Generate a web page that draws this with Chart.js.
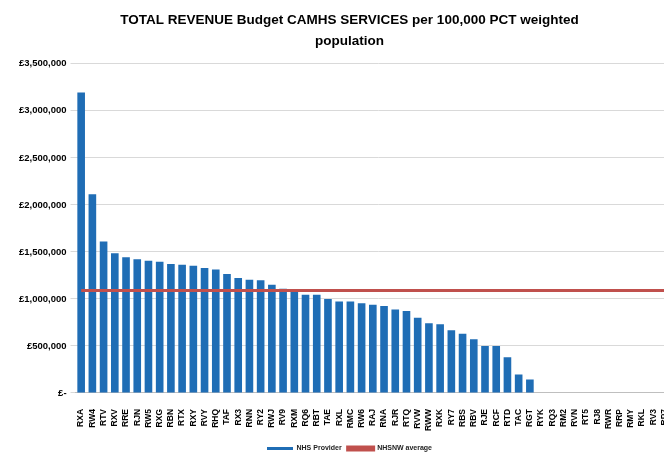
<!DOCTYPE html>
<html>
<head>
<meta charset="utf-8">
<title>TOTAL REVENUE Budget CAMHS SERVICES</title>
<script src="https://cdn.jsdelivr.net/npm/chart.js@4/dist/chart.umd.min.js"></script>
<style>
    html, body { margin: 0; padding: 0; background: #fff; overflow: hidden; }
    #wrap { position: relative; width: 694px; height: 462px; }
</style>
</head>
<body>
<div id="wrap"><canvas id="chart"></canvas></div>
<script>
// --- DATA ---
const providerCodes = [
    'RXA', 'RW4', 'RTV', 'RXV', 'RRE', 'RJN', 'RW5', 'RXG', 'RBN', 'RTX',
    'RXY', 'RVY', 'RHQ', 'TAF', 'RX3', 'RNN', 'RY2', 'RWJ', 'RV9', 'RXM',
    'RQ6', 'RBT', 'TAE', 'RXL', 'RMC', 'RW6', 'RAJ', 'RNA', 'RJR', 'RTQ',
    'RVW', 'RWW', 'RXK', 'RY7', 'RBS', 'RBV', 'RJE', 'RCF', 'RTD', 'TAC',
    'RGT', 'RYK', 'RQ3', 'RM2', 'RVN', 'RT5', 'RJ8', 'RWR', 'RRP', 'RMY',
    'RKL', 'RV3', 'RP7', 'RDY'
];

const providerBudget = [
    3195000, 2112000, 1610000, 1485000, 1442000, 1421000, 1407000, 1396000, 1372000, 1364000,
    1354000, 1329000, 1314000, 1265000, 1222000, 1204000, 1200000, 1150000, 1108000, 1086000,
    1044000, 1044000, 998000, 972000, 972000, 955000, 937000, 926000, 887000, 873000,
    801000, 741000, 730000, 666000, 630000, 570000, 499000, 499000, 381000, 197000,
    143000, null, null, null, null, null, null, null, null, null,
    null, null, null, null
];

const regionAverage = 1090000;

const yTicks = [0, 500000, 1000000, 1500000, 2000000, 2500000, 3000000, 3500000];

// --- CHART ---
const ctx = document.getElementById('chart').getContext('2d');

new Chart(ctx, {
    data: {
        labels: providerCodes,
        datasets: [
            {
                type: 'line',
                label: 'NHSNW average',
                data: providerCodes.map(() => regionAverage),
                borderColor: '#c0504d',
                backgroundColor: '#c0504d',
                borderWidth: 3,
                pointRadius: 0,
                order: 0
            },
            {
                type: 'bar',
                label: 'NHS Provider',
                data: providerBudget,
                backgroundColor: '#1f6db5',
                barPercentage: 0.68,
                categoryPercentage: 1,
                order: 1
            }
        ]
    },
    options: {
        responsive: true,
        maintainAspectRatio: false,
        animation: false,
        layout: { padding: { left: 15, right: 10, top: 4, bottom: 0 } },
        plugins: {
            title: {
                display: true,
                text: ['TOTAL REVENUE Budget CAMHS SERVICES per 100,000 PCT weighted', 'population'],
                color: '#000',
                font: { family: 'Liberation Sans', weight: 'bold', size: 13.5, lineHeight: 1.55 },
                padding: { top: 6, bottom: 12 }
            },
            legend: {
                position: 'bottom',
                reverse: true,
                labels: {
                    color: '#222',
                    font: { family: 'Liberation Sans', size: 7, weight: 'bold' },
                    boxWidth: 26,
                    boxHeight: 3,
                    padding: 6
                }
            },
            tooltip: { enabled: false }
        },
        scales: {
            x: {
                grid: { display: false },
                border: { display: true, color: '#bfbfbf' },
                ticks: {
                    autoSkip: false,
                    minRotation: 90,
                    maxRotation: 90,
                    color: '#000',
                    padding: 8,
                    font: { family: 'Liberation Sans', weight: 'bold', size: 8.5 }
                }
            },
            y: {
                min: 0,
                max: 3500000,
                afterBuildTicks: axis => { axis.ticks = yTicks.map(v => ({ value: v })); },
                grid: { color: '#d9d9d9', drawTicks: true, tickLength: 5 },
                border: { display: false },
                ticks: {
                    color: '#000',
                    padding: 4,
                    font: { family: 'Liberation Sans', weight: 'bold', size: 9.5 },
                    callback: v => v === 0 ? '£-' : '£' + v.toLocaleString('en-GB')
                }
            }
        }
    }
});
</script>
</body>
</html>
